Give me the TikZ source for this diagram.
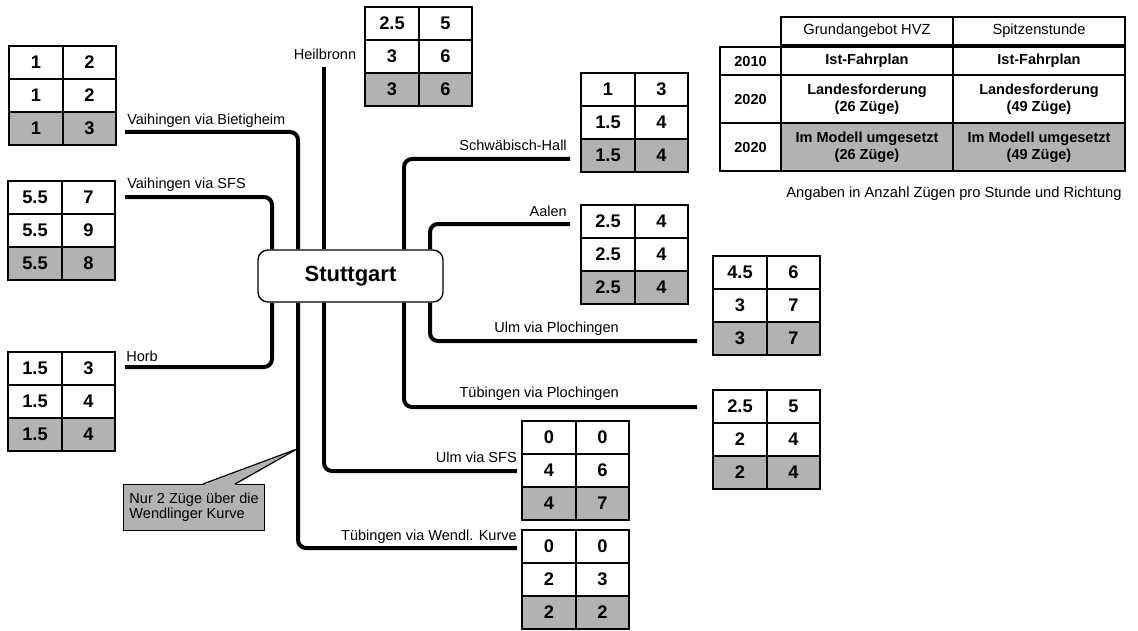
\documentclass[tikz,border=0pt]{standalone}
\usepackage{fontspec}
\setmainfont{Liberation Sans}
\usetikzlibrary{backgrounds}
\definecolor{cellgray}{RGB}{178,178,178}
\tikzset{
  route/.style={line width=3pt, rounded corners=6pt},
  lbl/.style={font=\fontsize{10.9}{13}\selectfont, inner sep=0pt},
  num/.style={font=\fontsize{13.7}{16}\selectfont\bfseries, inner sep=0pt},
  legtxt/.style={font=\fontsize{11}{13}\selectfont, inner sep=0pt},
  legbold/.style={font=\fontsize{10.9}{12.8}\selectfont\bfseries, inner sep=0pt, align=center},
  gridline/.style={line width=0.8pt},
  tabframe/.style={line width=2.2pt},
  hub/.style={draw, line width=1pt, rounded corners=7.5pt, fill=white,
    minimum width=138.75pt, minimum height=39pt, inner sep=0pt,
    font=\fontsize{16.5}{19}\selectfont\bfseries},
  calloutbox/.style={draw, line width=0.9pt, fill=cellgray, minimum width=105.75pt,
    minimum height=34.5pt, inner sep=0pt, align=left, anchor=north west,
    font=\fontsize{10.9}{11.4}\selectfont}
}
\newcommand\ztab[9]{%
  \fill[cellgray] ({#2},{#3+66}) rectangle ({#2+107},{#3+99});
  \draw[gridline] ({#2},{#3+33}) -- ({#2+107},{#3+33});
  \draw[gridline] ({#2},{#3+66}) -- ({#2+107},{#3+66});
  \draw[gridline] ({#2+54},{#3}) -- ({#2+54},{#3+99});
  \draw[tabframe] ({#2},{#3}) rectangle ({#2+107},{#3+99});
  \node[num] (#1a) at ({#2+27},{#3+16.5}) {#4};
  \node[num] (#1b) at ({#2+80.5},{#3+16.5}) {#5};
  \node[num] (#1c) at ({#2+27},{#3+49.5}) {#6};
  \node[num] (#1d) at ({#2+80.5},{#3+49.5}) {#7};
  \node[num] (#1e) at ({#2+27},{#3+82.5}) {#8};
  \node[num] (#1f) at ({#2+80.5},{#3+82.5}) {#9};
}
\begin{document}
\begin{tikzpicture}[x=0.75pt,y=-0.75pt]
\useasboundingbox (0,0) rectangle (1138,631);

% hub
\node[hub] (S) at (350.5,276) {Stuttgart};

% vertical route positions
\coordinate (cA) at (272,0);
\coordinate (cB) at (298,0);
\coordinate (cC) at (324,0);
\coordinate (cD) at (404,0);
\coordinate (cE) at (430,0);

% free ends
\coordinate (vbE) at (125,132);
\coordinate (vsE) at (125,197);
\coordinate (hbE) at (324,67);
\coordinate (shE) at (570,159);
\coordinate (aaE) at (570,224);
\coordinate (hoE) at (125,367);
\coordinate (twE) at (517,548);
\coordinate (usE) at (517,471);
\coordinate (tpE) at (697,407);
\coordinate (upE) at (697,341);

\begin{scope}[on background layer]
  \draw[route] (vbE) -| (S.north -| cB);
  \draw[route] (vsE) -| (S.north -| cA);
  \draw[route] (hbE) -- (S.north -| cC);
  \draw[route] (shE) -| (S.north -| cD);
  \draw[route] (aaE) -| (S.north -| cE);
  \draw[route] (S.south -| cA) |- (hoE);
  \draw[route] (S.south -| cB) |- (twE);
  \draw[route] (S.south -| cC) |- (usE);
  \draw[route] (S.south -| cD) |- (tpE);
  \draw[route] (S.south -| cE) |- (upE);
\end{scope}

% route labels
\node[lbl, anchor=base west] (lvb) at (127,125) {Vaihingen via Bietigheim};
\node[lbl, anchor=base west] (lvs) at (127,189) {Vaihingen via SFS};
\node[lbl, anchor=base west] (lho) at (126,361) {Horb};
\node[lbl, anchor=base] (lhb) at (325,60) {Heilbronn};
\node[lbl, anchor=base east] (lsh) at (567,151) {Schwäbisch-Hall};
\node[lbl, anchor=base east] (laa) at (567,216) {Aalen};
\node[lbl, anchor=base east] (lup) at (619,332) {Ulm via Plochingen};
\node[lbl, anchor=base east] (ltp) at (619,397) {Tübingen via Plochingen};
\node[lbl, anchor=base east] (lus) at (517,462) {Ulm via SFS};
\node[lbl, anchor=base east] (ltw) at (517,540) {Tübingen via Wendl. Kurve};

% tables
\ztab{t1}{9}{46}{1}{2}{1}{2}{1}{3}
\ztab{t2}{8}{181}{5.5}{7}{5.5}{9}{5.5}{8}
\ztab{t3}{8}{352}{1.5}{3}{1.5}{4}{1.5}{4}
\ztab{t4}{365}{7}{2.5}{5}{3}{6}{3}{6}
\ztab{t5}{581}{73}{1}{3}{1.5}{4}{1.5}{4}
\ztab{t6}{581}{205}{2.5}{4}{2.5}{4}{2.5}{4}
\ztab{t7}{713}{256}{4.5}{6}{3}{7}{3}{7}
\ztab{t8}{713}{390}{2.5}{5}{2}{4}{2}{4}
\ztab{t9}{522}{421}{0}{0}{4}{6}{4}{7}
\ztab{t10}{522}{530}{0}{0}{2}{3}{2}{2}

% callout
\node[calloutbox] (cb) at (123,484) {Nur 2 Züge über die\\Wendlinger Kurve};
\coordinate (tip) at (297,449);
\fill[cellgray] (203,485) -- (tip) -- (235,485) -- cycle;
\draw[line width=0.9pt] (203,484) -- (tip) -- (235,484);

% legend
\draw[gridline] (781,17) rectangle (953,45);
\draw[gridline] (953,17) rectangle (1125,45);
\node[legtxt] (hg) at (867,31) {Grundangebot HVZ};
\node[legtxt] (hs) at (1039,31) {Spitzenstunde};
\draw[gridline] (720,47) rectangle (781,75);
\draw[gridline] (720,75) rectangle (781,123);
\draw[gridline] (720,123) rectangle (781,171);
\node[legbold] (y1) at (750.5,61) {2010};
\node[legbold] (y2) at (750.5,99) {2020};
\node[legbold] (y3) at (750.5,147) {2020};
\fill[cellgray] (781,123) rectangle (1125,171);
\draw[gridline] (781,75) -- (1125,75);
\draw[gridline] (781,123) -- (1125,123);
\draw[gridline] (953,47) -- (953,171);
\draw[tabframe] (781,47) rectangle (1125,171);
\node[legbold] (c11) at (867,61) {Ist-Fahrplan};
\node[legbold] (c12) at (1039,61) {Ist-Fahrplan};
\node[legbold] (c21) at (867,99) {Landesforderung\\(26 Züge)};
\node[legbold] (c22) at (1039,99) {Landesforderung\\(49 Züge)};
\node[legbold] (c31) at (867,147) {Im Modell umgesetzt\\(26 Züge)};
\node[legbold] (c32) at (1039,147) {Im Modell umgesetzt\\(49 Züge)};
\node[legtxt, anchor=base] (note) at (954,197) {Angaben in Anzahl Zügen pro Stunde und Richtung};
\end{tikzpicture}
\end{document}
